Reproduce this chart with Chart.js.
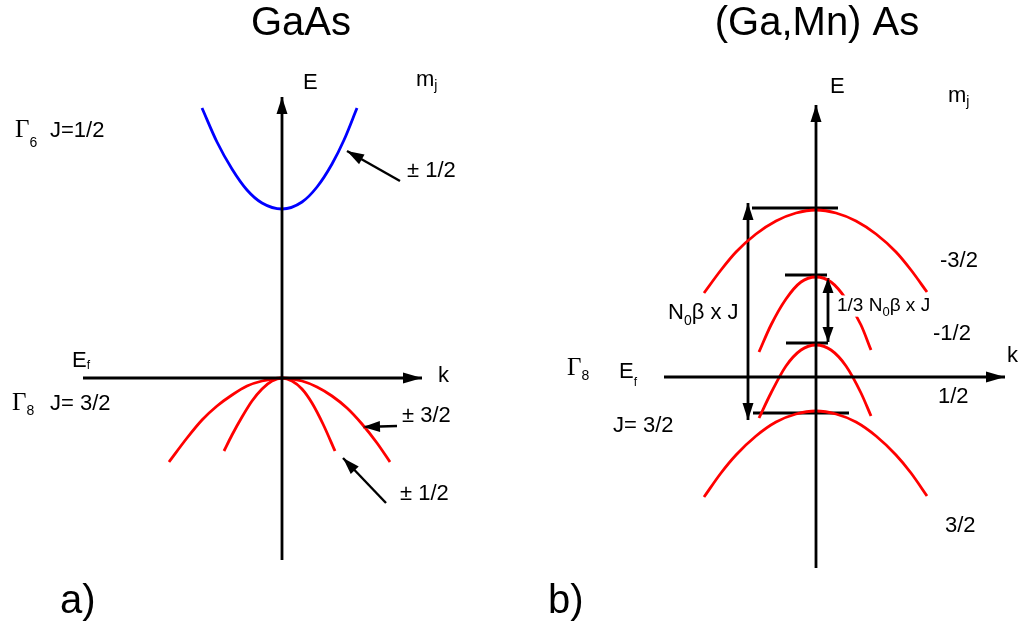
<!DOCTYPE html>
<html><head><meta charset="utf-8">
<script src="https://cdn.jsdelivr.net/npm/chart.js@4.4.1/dist/chart.umd.min.js"></script>
<style>
html,body{margin:0;padding:0;background:#fff;width:1018px;height:622px;overflow:hidden}
.p{position:absolute;top:0;width:509px;height:622px}
</style></head><body>
<div class="p" style="left:0"><canvas id="ca"></canvas></div>
<div class="p" style="left:509px"><canvas id="cb"></canvas></div>
<script>
// ---------- Panel a: GaAs (k, E in arbitrary units; origin at band touching point) ----------
const kGamma6 = [-0.80,-0.65,-0.50,-0.35,-0.20,0,0.20,0.35,0.50,0.62,0.75];
const eGamma6 = [2.70,2.36,2.09,1.88,1.75,1.69,1.76,1.91,2.14,2.38,2.70];
const kHeavy  = [-1.13,-0.95,-0.80,-0.65,-0.50,-0.35,-0.20,0,0.20,0.35,0.50,0.65,0.80,0.95,1.08];
const eHeavy  = [-0.84,-0.60,-0.42,-0.28,-0.17,-0.08,-0.03,0,-0.03,-0.09,-0.18,-0.30,-0.46,-0.65,-0.84];
const kLight  = [-0.58,-0.50,-0.40,-0.30,-0.20,-0.10,0,0.10,0.20,0.30,0.41,0.53];
const eLight  = [-0.73,-0.57,-0.39,-0.23,-0.11,-0.03,0,-0.03,-0.11,-0.25,-0.46,-0.73];
const kAxisA  = [-1.99, 1.40];
const eAxisA  = [-1.82, 2.81];

// ---------- Panel b: (Ga,Mn)As, exchange-split Γ8 bands ----------
const kWide   = [-1.12,-0.95,-0.80,-0.60,-0.40,-0.20,0,0.20,0.40,0.60,0.80,0.95,1.11];
const eMm32   = [0.84,1.07,1.25,1.43,1.56,1.64,1.67,1.64,1.56,1.43,1.25,1.07,0.85];
const eMp32   = [-1.20,-0.96,-0.78,-0.59,-0.45,-0.37,-0.34,-0.37,-0.45,-0.59,-0.78,-0.96,-1.19];
const kNarrow = [-0.57,-0.45,-0.30,-0.15,0,0.15,0.30,0.45,0.55];
const eMm12   = [0.25,0.52,0.78,0.95,1.00,0.95,0.78,0.52,0.27];
const eMp12   = [-0.41,-0.16,0.11,0.27,0.32,0.27,0.11,-0.16,-0.39];
const levelE     = [1.69, 1.02, 0.34, -0.36];
const levelKFrom = [-0.64, -0.31, -0.30, -0.63];
const levelKTo   = [0.22, 0.11, 0.12, 0.33];
const splitFull  = [1.74, -0.43];   // N0β x J arrow (E from, E to)
const splitThird = [0.99, 0.35];    // 1/3 N0β x J arrow
const kAxisB  = [-1.52, 1.89];
const eAxisB  = [-1.91, 2.72];

// ---------- helpers ----------
const zip = (ks, es) => ks.map((k, i) => ({x: k, y: es[i]}));
const RED = '#ff0000', BLUE = '#0000ff', BLK = '#000000';
function curve(ks, es, color) {
  return {data: zip(ks, es), borderColor: color, borderWidth: 2.8, pointRadius: 0,
          cubicInterpolationMode: 'monotone', fill: false};
}
function seg(k1, e1, k2, e2, o) {
  return Object.assign({data: [{x: k1, y: e1}, {x: k2, y: e2}], borderColor: BLK,
          borderWidth: 2.8, pointRadius: 0, tension: 0, fill: false}, o || {});
}
const SANS = '"Liberation Sans", Arial, sans-serif';
const SERIF = '"Liberation Serif", "Times New Roman", serif';

function drawHead(ctx, tip, from, L, W) {
  const a = Math.atan2(tip.y - from.y, tip.x - from.x);
  const c = Math.cos(a), s = Math.sin(a);
  const bx = tip.x - L * c, by = tip.y - L * s;
  ctx.beginPath();
  ctx.moveTo(tip.x, tip.y);
  ctx.lineTo(bx - W * s, by + W * c);
  ctx.lineTo(bx + W * s, by - W * c);
  ctx.closePath();
  ctx.fillStyle = BLK; ctx.fill();
}

function annot(labels) {
  return {
    id: 'annot',
    afterDatasetsDraw(chart) {
      const ctx = chart.ctx;
      const xs = chart.scales.x, ys = chart.scales.y;
      ctx.save();
      chart.data.datasets.forEach((ds, i) => {
        const pts = chart.getDatasetMeta(i).data;
        if (ds.arrowEnd) drawHead(ctx, pts[pts.length - 1], pts[pts.length - 2], ds.headL || 17, ds.headW || 5.5);
        if (ds.arrowStart) drawHead(ctx, pts[0], pts[1], ds.headL || 17, ds.headW || 5.5);
      });
      labels.forEach(lb => {
        const size = lb.size || 22;
        let w = 0;
        const segs = lb.parts.map(p => {
          const sz = p.size || (p.sub ? 14 : size);
          const f = sz + 'px ' + (p.serif ? SERIF : SANS);
          ctx.font = f;
          const mw = ctx.measureText(p.t).width;
          w += mw;
          return {p, f, mw};
        });
        let x = xs.getPixelForValue(lb.k);
        const y = ys.getPixelForValue(lb.E);
        if (lb.align === 'center') x -= w / 2;
        if (lb.bg) {
          ctx.fillStyle = '#fff';
          ctx.fillRect(x - 3, y - size * 0.82, w + 6, size * 1.12);
        }
        ctx.textBaseline = 'alphabetic';
        ctx.textAlign = 'left';
        ctx.fillStyle = BLK;
        segs.forEach(sg => {
          ctx.font = sg.f;
          ctx.fillText(sg.p.t, x, y + (sg.p.dy || 0));
          x += sg.mw;
        });
      });
      ctx.restore();
    }
  };
}

function makeChart(id, xr, yr, datasets, labels) {
  return new Chart(document.getElementById(id), {
    type: 'line',
    data: {datasets},
    options: {
      responsive: true, maintainAspectRatio: false, animation: false, events: [],
      layout: {padding: 0},
      plugins: {legend: {display: false}, tooltip: {enabled: false}, title: {display: false}},
      scales: {
        x: {type: 'linear', min: xr[0], max: xr[1], display: false},
        y: {type: 'linear', min: yr[0], max: yr[1], display: false}
      }
    },
    plugins: [annot(labels)]
  });
}

// ---------- Panel a ----------
const dsA = [
  seg(0, eAxisA[0], 0, eAxisA[1], {arrowEnd: true}),
  seg(kAxisA[0], 0, kAxisA[1], 0, {arrowEnd: true, headL: 19}),
  curve(kGamma6, eGamma6, BLUE),
  curve(kHeavy, eHeavy, RED),
  curve(kLight, eLight, RED),
  seg(1.18, 1.97, 0.65, 2.27, {arrowEnd: true, borderWidth: 2.4}),
  seg(1.15, -0.48, 0.81, -0.49, {arrowEnd: true, borderWidth: 2.4}),
  seg(1.04, -1.25, 0.61, -0.80, {arrowEnd: true, borderWidth: 2.4})
];
const labA = [
  {k: 0.19, E: 3.43, size: 40, align: 'center', parts: [{t: 'GaAs'}]},
  {k: 0.21, E: 2.89, parts: [{t: 'E'}]},
  {k: 1.34, E: 2.92, parts: [{t: 'm'}, {t: 'j', sub: 1, dy: 4}]},
  {k: -2.67, E: 2.41, parts: [{t: 'Γ', serif: 1, size: 25}, {t: '6', sub: 1, dy: 10}]},
  {k: -2.32, E: 2.41, parts: [{t: 'J=1/2'}]},
  {k: 1.25, E: 2.01, parts: [{t: '± 1/2'}]},
  {k: -2.10, E: 0.11, parts: [{t: 'E'}, {t: 'f', sub: 1, size: 12, dy: 2}]},
  {k: 1.56, E: -0.04, parts: [{t: 'k'}]},
  {k: -2.70, E: -0.32, parts: [{t: 'Γ', serif: 1, size: 25}, {t: '8', sub: 1, dy: 5}]},
  {k: -2.32, E: -0.32, parts: [{t: 'J= 3/2'}]},
  {k: 1.20, E: -0.44, parts: [{t: '± 3/2'}]},
  {k: 1.18, E: -1.22, parts: [{t: '± 1/2'}]},
  {k: -2.22, E: -2.35, size: 40, parts: [{t: 'a)'}]}
];
makeChart('ca', [-2.82, 2.27], [-2.44, 3.78], dsA, labA);

// ---------- Panel b ----------
const dsB = [
  seg(0, eAxisB[0], 0, eAxisB[1], {arrowEnd: true}),
  seg(kAxisB[0], 0, kAxisB[1], 0, {arrowEnd: true, headL: 19}),
  curve(kWide, eMm32, RED),
  curve(kNarrow, eMm12, RED),
  curve(kNarrow, eMp12, RED),
  curve(kWide, eMp32, RED)
];
levelE.forEach((e, i) => dsB.push(seg(levelKFrom[i], e, levelKTo[i], e)));
dsB.push(seg(-0.68, splitFull[0], -0.68, splitFull[1], {arrowEnd: true, arrowStart: true}));
dsB.push(seg(0.12, splitThird[0], 0.12, splitThird[1], {arrowEnd: true, arrowStart: true, headL: 15}));
const labB = [
  {k: 0.01, E: 3.42, size: 40, align: 'center', parts: [{t: '(Ga,Mn) As'}]},
  {k: 0.14, E: 2.84, parts: [{t: 'E'}]},
  {k: 1.32, E: 2.75, parts: [{t: 'm'}, {t: 'j', sub: 1, dy: 4}]},
  {k: 1.24, E: 1.10, parts: [{t: '-3/2'}]},
  {k: 1.17, E: 0.37, parts: [{t: '-1/2'}]},
  {k: 1.91, E: 0.15, parts: [{t: 'k'}]},
  {k: 1.22, E: -0.26, parts: [{t: '1/2'}]},
  {k: 1.29, E: -1.55, parts: [{t: '3/2'}]},
  {k: -2.49, E: 0.02, parts: [{t: 'Γ', serif: 1, size: 25}, {t: '8', sub: 1, dy: 5}]},
  {k: -1.97, E: -0.01, parts: [{t: 'E'}, {t: 'f', sub: 1, size: 12, dy: 8}]},
  {k: -2.03, E: -0.55, parts: [{t: 'J= 3/2'}]},
  {k: -1.48, E: 0.58, parts: [{t: 'N'}, {t: '0', sub: 1, dy: 6}, {t: 'β x J'}]},
  {k: 0.21, E: 0.66, size: 19, bg: 1, parts: [{t: '1/3 N'}, {t: '0', sub: 1, size: 13, dy: 5}, {t: 'β x J'}]},
  {k: -2.68, E: -2.36, size: 40, parts: [{t: 'b)'}]}
];
makeChart('cb', [-3.07, 2.02], [-2.45, 3.77], dsB, labB);
</script>
</body></html>
